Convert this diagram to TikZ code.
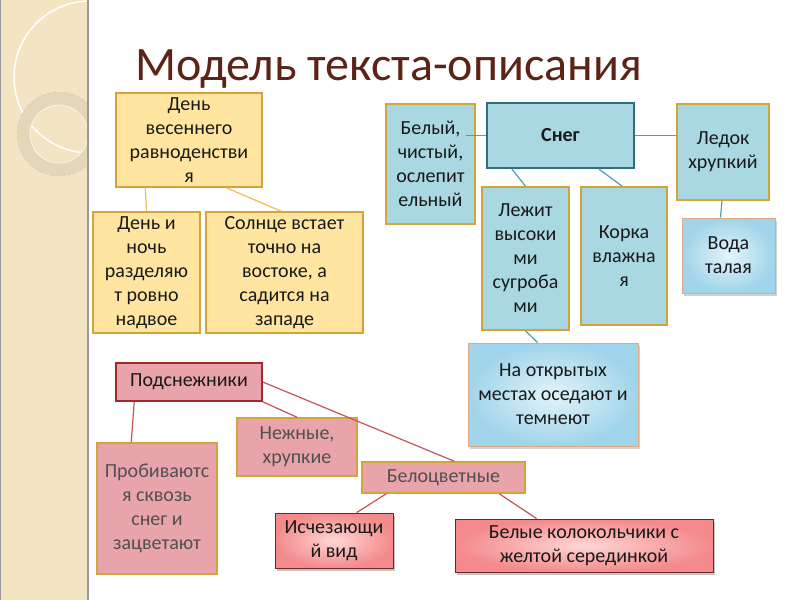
\documentclass[tikz,border=0pt]{standalone}
\usepackage{fontspec}
\setmainfont{Carlito}
\usetikzlibrary{shadows,calc}
\definecolor{titlec}{RGB}{92,36,22}
\definecolor{yfill}{RGB}{255,229,160}
\definecolor{gold}{RGB}{212,164,58}
\definecolor{bfill}{RGB}{170,216,226}
\definecolor{teal}{RGB}{49,110,124}
\definecolor{pfill}{RGB}{232,164,170}
\definecolor{dred}{RGB}{160,42,42}
\definecolor{yline}{RGB}{240,192,80}
\definecolor{bline}{RGB}{80,158,176}
\definecolor{pline}{RGB}{196,84,84}
\definecolor{greytext}{RGB}{80,80,80}
\definecolor{strip}{RGB}{243,229,195}
\begin{document}
\begin{tikzpicture}[x=1pt,y=-1pt,
  box/.style={line width=1.5pt, align=center, inner sep=0pt, anchor=center,
    font=\fontsize{20}{24}\selectfont, text=black!90},
  ybox/.style={box, draw=gold, fill=yfill},
  bbox/.style={box, draw=gold, fill=bfill},
  snegbox/.style={box, draw=teal, line width=2.2pt, fill=bfill},
  gbbox/.style={box, draw={rgb,255:red,222;green,170;blue,130}, line width=0.8pt,
    inner color={rgb,255:red,226;green,244;blue,250}, outer color={rgb,255:red,160;green,212;blue,234},
    drop shadow={shadow xshift=2pt, shadow yshift=-3pt, opacity=0.35}},
  pbox/.style={box, draw=gold, fill=pfill, text=greytext},
  rbox/.style={box, draw={rgb,255:red,110;green,40;blue,40}, line width=0.8pt,
    inner color={rgb,255:red,255;green,214;blue,214}, outer color={rgb,255:red,244;green,138;blue,140},
    drop shadow={shadow xshift=2pt, shadow yshift=-3pt, opacity=0.45}},
  yl/.style={draw=yline, line width=1.2pt},
  bl/.style={draw=bline, line width=1.2pt},
  pl/.style={draw=pline, line width=1.2pt}
]
\useasboundingbox (0,0) rectangle (800,600);
% decorative strip
\fill[white] (0,0) rectangle (800,600);
\fill[strip] (0,0) rectangle (88,600);
\begin{scope}
  \clip (0,0) rectangle (88,600);
  \draw[white, line width=1.5pt] (90,77) circle[radius=76];
  \fill[black!6!strip, even odd rule] (59,134) circle[radius=42] (59,134) circle[radius=29];
  \draw[black!22, dashed, line width=0.4pt] (59,134) circle[radius=42];
  \draw[white!60!strip, line width=0.8pt] (59,134) circle[radius=29];
\end{scope}
\draw[black!40, line width=1.5pt] (88,0) -- (88,600);
\draw[black!40, line width=1pt] (0.5,0) -- (0.5,600);
% title
\node[anchor=base west, inner sep=0pt, text=titlec, font=\fontsize{48}{56}\selectfont] (title) at (135,80) {Модель текста-описания};
% yellow group
\node[ybox, minimum width=146pt, minimum height=94pt] (y1) at (189,140) {День\\весеннего\\равноденстви\\я};
\node[ybox, minimum width=107pt, minimum height=121pt] (y2) at (146.5,272.5) {День и\\ночь\\разделяю\\т ровно\\надвое};
\node[ybox, minimum width=157pt, minimum height=121pt] (y3) at (284.5,272.5) {Солнце встает\\точно на\\востоке, а\\садится на\\западе};
\draw[yl] ([xshift=30]y1.south west) -- (y2.north);
\draw[yl] ([xshift=111]y1.south west) -- ([xshift=76]y3.north west);
% blue group
\node[bbox, minimum width=89pt, minimum height=120pt] (b1) at (430.5,164) {Белый,\\чистый,\\ослепит\\ельный};
\node[snegbox, minimum width=147pt, minimum height=65pt, font=\fontsize{20}{24}\selectfont\bfseries] (sneg) at (560.5,135.5) {Снег};
\node[bbox, minimum width=92pt, minimum height=96pt] (ledok) at (723,152) {Ледок\\хрупкий};
\node[bbox, minimum width=87pt, minimum height=143pt] (lezhit) at (525.5,258.5) {Лежит\\высоки\\ми\\сугроба\\ми};
\node[bbox, minimum width=86pt, minimum height=138pt] (korka) at (624,256) {Корка\\влажна\\я};
\node[gbbox, minimum width=93pt, minimum height=75pt] (voda) at (728.5,255.5) {Вода\\талая};
\node[gbbox, minimum width=170pt, minimum height=103pt] (otkr) at (553,394.5) {На открытых\\местах оседают и\\темнеют};
\draw[bl] ($(b1.east |- sneg.west)+(-10,0)$) -- (sneg.west);
\draw[bl] (sneg.east) -- (sneg.east -| ledok.west);
\draw[bl] ([xshift=26]sneg.south west) -- (lezhit.north);
\draw[bl] ([xshift=113]sneg.south west) -- ([xshift=42]korka.north west);
\draw[bl] ([xshift=-1]ledok.south) -- ([xshift=-8]voda.north);
\draw[bl] (lezhit.south) -- ([xshift=70]otkr.north west);
% pink group
\node[box, draw=dred, fill=pfill, minimum width=146pt, minimum height=38pt] (podsn) at (189,382) {Подснежники};
\node[pbox, minimum width=120pt, minimum height=58pt] (nezh) at (297,447) {Нежные,\\хрупкие};
\node[pbox, minimum width=120pt, minimum height=131pt] (prob) at (157,508.5) {Пробиваютс\\я сквозь\\снег и\\зацветают};
\node[pbox, minimum width=163pt, minimum height=31pt] (belo) at (443.5,477.5) {Белоцветные};
\node[rbox, minimum width=118pt, minimum height=55pt] (isch) at (334,540.5) {Исчезающи\\й вид};
\node[rbox, minimum width=258pt, minimum height=53pt] (bel) at (584,545.5) {Белые колокольчики с\\желтой серединкой};
\draw[pl] ([xshift=19]podsn.south west) -- ([xshift=35]prob.north west);
\draw[pl] (podsn.south east) -- (nezh.north);
\draw[pl] (podsn.east) -- ([xshift=93]belo.north west);
\draw[pl] ([xshift=25]belo.south west) -- ([xshift=82]isch.north west);
\draw[pl] ([xshift=138]belo.south west) -- ([xshift=82]bel.north west);
\end{tikzpicture}
\end{document}
